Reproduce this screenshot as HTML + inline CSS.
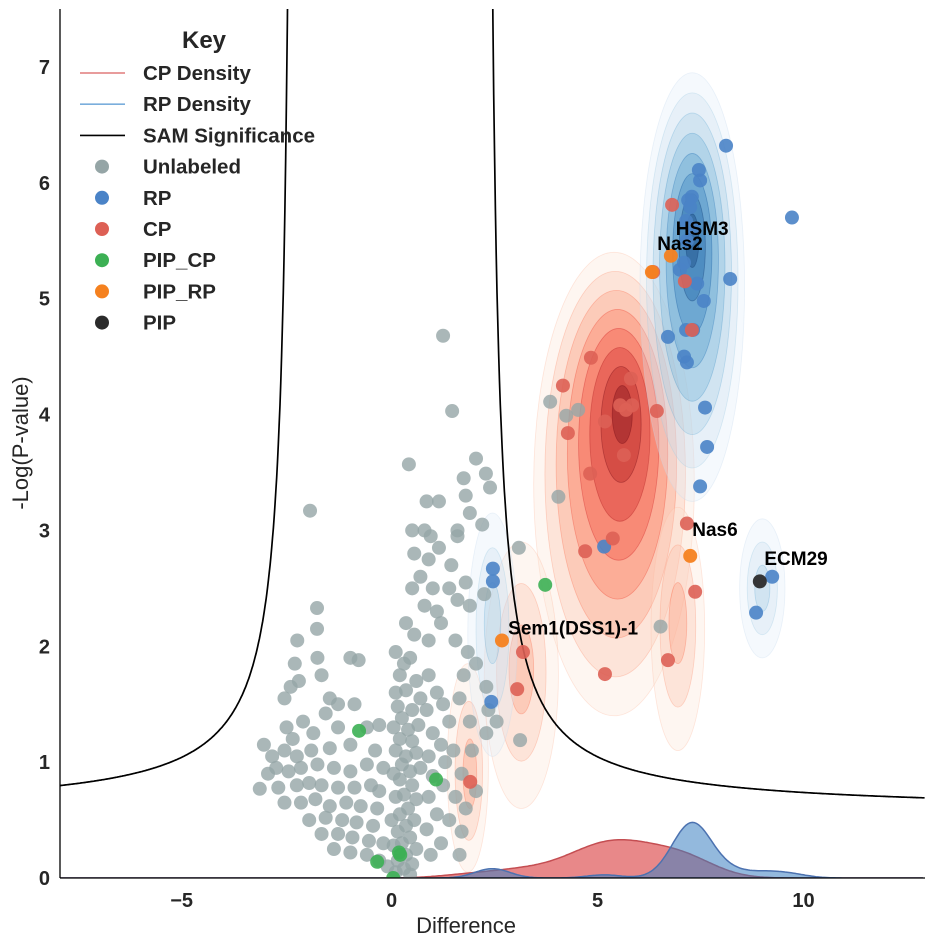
<!DOCTYPE html>
<html><head><meta charset="utf-8"><style>
body{margin:0;background:#fff;}
svg text{font-family:"Liberation Sans",Arial,sans-serif;}
</style></head><body>
<svg id="chart" width="936" height="947" viewBox="0 0 936 947" xmlns="http://www.w3.org/2000/svg">
<defs><clipPath id="plotclip"><rect x="60" y="9" width="865" height="869"/></clipPath></defs>
<g id="plot" clip-path="url(#plotclip)"></g>
<g id="axes"></g>
<g id="legend"></g>
</svg>
<script>
const xTicks=[-5,0,5,10];
const yTicks=[0,1,2,3,4,5,6,7];
const rpPoints=[[8.12,6.32],[9.72,5.70],[7.46,6.11],[7.29,5.88],[7.20,5.85],[7.25,5.79],[7.15,5.67],[7.32,5.61],[7.17,5.50],[7.10,5.31],[8.22,5.17],[7.42,5.13],[7.58,4.98],[6.71,4.67],[7.15,4.73],[7.32,4.73],[7.10,4.50],[7.17,4.45],[7.61,4.06],[7.66,3.72],[7.49,3.38],[5.16,2.86],[2.46,2.67],[2.46,2.56],[2.42,1.52],[9.24,2.60],[8.85,2.29],[7.49,6.02],[7.00,5.25]];
const cpPoints=[[6.81,5.81],[6.35,5.23],[7.12,5.15],[7.29,4.73],[4.84,4.49],[5.81,4.31],[4.16,4.25],[5.55,4.08],[5.84,4.08],[5.69,4.04],[6.44,4.03],[5.18,3.94],[4.28,3.84],[5.64,3.65],[4.82,3.49],[7.17,3.06],[5.37,2.93],[4.70,2.82],[7.37,2.47],[3.19,1.95],[6.71,1.88],[3.05,1.63],[5.18,1.76],[1.91,0.83]];
const pipCpPoints=[[3.73,2.53],[-0.79,1.27],[1.08,0.85],[0.21,0.20],[0.18,0.22],[-0.35,0.14],[0.04,0.00]];
const pipRpPoints=[[6.78,5.37],[6.32,5.23],[7.25,2.78],[2.68,2.05]];
const pipPoints=[[8.94,2.56]];
const grayPoints=[[1.25,4.68],[1.47,4.03],[0.42,3.57],[-1.98,3.17],[2.05,3.62],[1.75,3.45],[2.29,3.49],[2.39,3.37],[1.8,3.3],[1.9,3.15],[1.15,3.25],[0.85,3.25],[0.8,3.0],[0.5,3.0],[0.95,2.95],[1.6,3.0],[1.6,2.95],[2.2,3.05],[1.15,2.85],[0.55,2.8],[0.9,2.75],[0.7,2.6],[0.5,2.5],[1.0,2.5],[1.45,2.7],[1.6,2.4],[1.4,2.5],[1.9,2.35],[1.8,2.55],[2.25,2.45],[0.8,2.35],[1.1,2.3],[0.35,2.2],[0.55,2.1],[0.9,2.05],[1.2,2.2],[1.55,2.05],[2.05,1.85],[1.85,1.95],[2.3,1.65],[2.35,1.45],[2.55,1.35],[2.3,1.25],[3.12,1.19],[3.85,4.11],[4.53,4.04],[4.24,3.99],[4.05,3.29],[3.09,2.85],[6.53,2.17],[-1.81,2.33],[-1.81,2.15],[-2.29,2.05],[-2.35,1.85],[-2.25,1.7],[-2.45,1.65],[-2.6,1.55],[-1.8,1.9],[-1.7,1.75],[-1.0,1.9],[-0.8,1.88],[-1.5,1.55],[-1.3,1.5],[-0.9,1.5],[-1.6,1.42],[-2.55,1.3],[-2.15,1.35],[-2.4,1.2],[-1.9,1.25],[-1.3,1.3],[-0.6,1.3],[-0.3,1.32],[-3.1,1.15],[-2.9,1.05],[-2.6,1.1],[-2.3,1.05],[-1.95,1.1],[-1.5,1.12],[-1.0,1.15],[-0.4,1.1],[-3.0,0.9],[-2.8,0.95],[-2.5,0.92],[-2.2,0.95],[-1.8,0.98],[-1.4,0.95],[-1.0,0.92],[-0.6,0.98],[-0.2,0.95],[-3.2,0.77],[-2.75,0.78],[-2.3,0.8],[-2.0,0.82],[-1.7,0.8],[-1.3,0.78],[-0.9,0.78],[-0.5,0.8],[-0.3,0.75],[-2.6,0.65],[-2.2,0.65],[-1.85,0.68],[-1.5,0.62],[-1.1,0.65],[-0.75,0.62],[-0.35,0.6],[-2.0,0.5],[-1.6,0.52],[-1.2,0.5],[-0.85,0.48],[-0.45,0.45],[-1.7,0.38],[-1.3,0.38],[-0.95,0.35],[-0.55,0.32],[-0.2,0.3],[-1.4,0.25],[-1.0,0.22],[-0.6,0.2],[-0.3,0.15],[-0.1,0.1],[0.1,1.95],[0.3,1.85],[0.45,1.9],[0.2,1.75],[0.6,1.7],[0.1,1.6],[0.35,1.62],[0.7,1.55],[0.15,1.48],[0.5,1.45],[0.25,1.38],[0.05,1.3],[0.4,1.28],[0.65,1.32],[0.2,1.2],[0.5,1.18],[0.1,1.1],[0.35,1.05],[0.6,1.08],[0.25,0.98],[0.45,0.92],[0.05,0.9],[0.7,0.95],[0.2,0.85],[0.5,0.8],[0.3,0.72],[0.1,0.7],[0.6,0.68],[0.4,0.6],[0.2,0.55],[0.0,0.5],[0.55,0.5],[0.35,0.45],[0.15,0.4],[0.45,0.35],[0.25,0.3],[0.05,0.28],[0.6,0.25],[0.35,0.2],[0.15,0.15],[0.5,0.12],[0.3,0.08],[0.1,0.05],[0.45,0.03],[0.9,1.75],[1.1,1.6],[0.85,1.45],[1.25,1.5],[1.4,1.35],[1.0,1.25],[1.2,1.15],[0.9,1.05],[1.5,1.1],[1.3,1.0],[1.0,0.88],[1.7,0.9],[1.25,0.8],[0.9,0.7],[1.55,0.7],[1.8,0.6],[1.1,0.55],[1.4,0.5],[0.85,0.42],[1.7,0.4],[1.2,0.3],[1.65,0.2],[0.95,0.2],[1.9,1.35],[1.65,1.55],[1.95,1.1],[2.05,0.75],[1.75,1.75]];
const labels=[["HSM3",6.9,5.55],["Nas2",6.45,5.42],["Nas6",7.3,2.95],["ECM29",9.05,2.7],["Sem1(DSS1)-1",2.83,2.1]];
// density blobs: [cx, cy, rx, ry, innerCx, innerCy]
const cpBlobs=[[5.4,3.4,1.95,2.0,5.6,4.0],[3.15,1.75,0.9,1.15,3.15,1.8],[1.85,0.95,0.5,0.9,1.9,0.9],[6.95,2.15,0.65,1.05,6.95,2.2]];
const rpBlobs=[[7.3,5.1,1.27,1.85,7.3,5.5],[2.45,2.1,0.6,1.05,2.45,2.2],[9.0,2.5,0.55,0.6,9.0,2.5]];

const X0=-8.05,X1=12.95,Y0=0,Y1=7.5,L=60,R=925,T=9,B=878;
const sx=v=>L+(v-X0)/(X1-X0)*(R-L);
const sy=v=>B-(v-Y0)/(Y1-Y0)*(B-T);
const NS='http://www.w3.org/2000/svg';
function mk(tag,attrs,parent){const e=document.createElementNS(NS,tag);for(const k in attrs)e.setAttribute(k,attrs[k]);parent.appendChild(e);return e;}
const plot=document.getElementById('plot'),axes=document.getElementById('axes'),legend=document.getElementById('legend');

const redShades=['#fde0d2','#fcbba1','#fc9272','#fb6a4a','#ef3b2c','#cb181d','#a50f15','#67000d'];
const blueShades=['#deebf7','#c6dbef','#9ecae1','#6baed6','#4292c6','#2171b5','#08519c','#08306b'];
function drawBlobs(blobs,shades,name,levelsMain){
  blobs.forEach((b,i)=>{
    const n=i===0?levelsMain:3;
    for(let k=0;k<n;k++){
      const f=1-k/(n);
      const t=k/(n-1||1);
      const cx=b[0]+(b[4]-b[0])*t, cy=b[1]+(b[5]-b[1])*t;
      const e=mk('ellipse',{cx:sx(cx),cy:sy(cy),rx:b[2]*f*(R-L)/(X1-X0),ry:b[3]*f*(B-T)/(Y1-Y0),fill:shades[k],'fill-opacity':0.3,stroke:shades[Math.min(k+1,7)],'stroke-opacity':0.35,'stroke-width':0.8},plot);
      
      
    }
  });
}
drawBlobs(cpBlobs,redShades,'cp-density',8);
drawBlobs(rpBlobs,blueShades,'rp-density',8);

function kde(pts,bw,scale){const out=[];for(let x=X0;x<=X1;x+=0.05){let s=0;pts.forEach(p=>{const z=(x-p[0])/bw;s+=Math.exp(-z*z/2);});out.push([x,scale*s/(pts.length*bw*Math.sqrt(2*Math.PI))]);}return out;}
function drawKde(pts,bw,scale,fill,stroke,name){
  const d=kde(pts,bw,scale);
  let path='M'+sx(d[0][0])+','+sy(0);
  d.forEach(p=>path+='L'+sx(p[0]).toFixed(1)+','+sy(p[1]).toFixed(1));
  path+='L'+sx(d[d.length-1][0])+','+sy(0)+'Z';
  const e=mk('path',{d:path,fill:fill,'fill-opacity':0.55,stroke:stroke,'stroke-width':1.5},plot);
  
  
}
drawKde(cpPoints,0.75,1.27,'#d62728','#c44e52','cp-marginal-density');
drawKde(rpPoints,0.42,0.82,'#3a7fc1','#4c72b0','rp-marginal-density');

const a=1.3,b=0.57,x0L=2.34,x0R=2.27;
let pl='',pr='';
for(let x=X0;x<=-x0L-0.15;x+=0.02){pl+=(pl?'L':'M')+sx(x).toFixed(1)+','+sy(a/(-x-x0L)+b).toFixed(1);}
for(let x=x0R+0.15;x<=X1;x+=0.02){pr+=(pr?'L':'M')+sx(x).toFixed(1)+','+sy(a/(x-x0R)+b).toFixed(1);}
const sl=mk('path',{d:pl,fill:'none',stroke:'#000','stroke-width':1.7},plot);


const sr=mk('path',{d:pr,fill:'none',stroke:'#000','stroke-width':1.7},plot);



function drawPts(arr,color,name,op){
  arr.forEach(p=>{
    const c=mk('circle',{cx:sx(p[0]),cy:sy(p[1]),r:7,fill:color,'fill-opacity':op},plot);
    
    
  });
}
drawPts(grayPoints,'#95a5a6','unlabeled-point',0.8);
drawPts(rpPoints,'#4a83c7','rp-point',0.9);
drawPts(cpPoints,'#dd6055','cp-point',0.9);
drawPts(pipCpPoints,'#3cb054','pip-cp-point',0.9);
drawPts(pipRpPoints,'#f5811f','pip-rp-point',0.95);
drawPts(pipPoints,'#2b2b2b','pip-point',0.95);

labels.forEach(l=>{
  const t=mk('text',{x:sx(l[1]),y:sy(l[2]),'font-size':19,'font-weight':'bold',fill:'#000'},plot);
  t.textContent=l[0];
  
  
});

const ls=mk('line',{x1:L,y1:T,x2:L,y2:B,stroke:'#000','stroke-width':1.3},axes);


const bs=mk('line',{x1:L,y1:B,x2:R,y2:B,stroke:'#000','stroke-width':1.3},axes);


xTicks.forEach(v=>{
  const t=mk('text',{x:sx(v)+(v<0?-4:0),y:B+29,'text-anchor':'middle','font-size':20,'font-weight':'bold',fill:'#262626'},axes);
  t.textContent=v<0?'\u2212'+Math.abs(v):String(v);
  
  
});
yTicks.forEach(v=>{
  const t=mk('text',{x:L-10,y:sy(v)+7,'text-anchor':'end','font-size':20,'font-weight':'bold',fill:'#262626'},axes);
  t.textContent=String(v);
  
  
});
const xt=mk('text',{x:466,y:933,'text-anchor':'middle','font-size':22,fill:'#262626'},axes);
xt.textContent='Difference';


const yt=mk('text',{x:0,y:0,'text-anchor':'middle','font-size':22,fill:'#262626',transform:'translate(28,443) rotate(-90)'},axes);
yt.textContent='-Log(P-value)';



const kt=mk('text',{x:204,y:48,'text-anchor':'middle','font-size':24,'font-weight':'bold',fill:'#262626'},legend);
kt.textContent='Key';


const entries=[['CP Density','line','#e07c7c'],['RP Density','line','#7aaedc'],['SAM Significance','line','#000'],['Unlabeled','dot','#95a5a6'],['RP','dot','#4a83c7'],['CP','dot','#dd6055'],['PIP_CP','dot','#3cb054'],['PIP_RP','dot','#f5811f'],['PIP','dot','#2b2b2b']];
entries.forEach((e,i)=>{
  const y=73+i*31.2;
  const g=mk('g',{},legend);
  
  
  if(e[1]==='line') mk('line',{x1:80,y1:y,x2:125,y2:y,stroke:e[2],'stroke-width':1.6},g);
  else mk('circle',{cx:102,cy:y,r:7,fill:e[2]},g);
  const t=mk('text',{x:143,y:y+7,'font-size':20.5,'font-weight':'bold',fill:'#262626'},g);
  t.textContent=e[0];
});
</script>
</body></html>
